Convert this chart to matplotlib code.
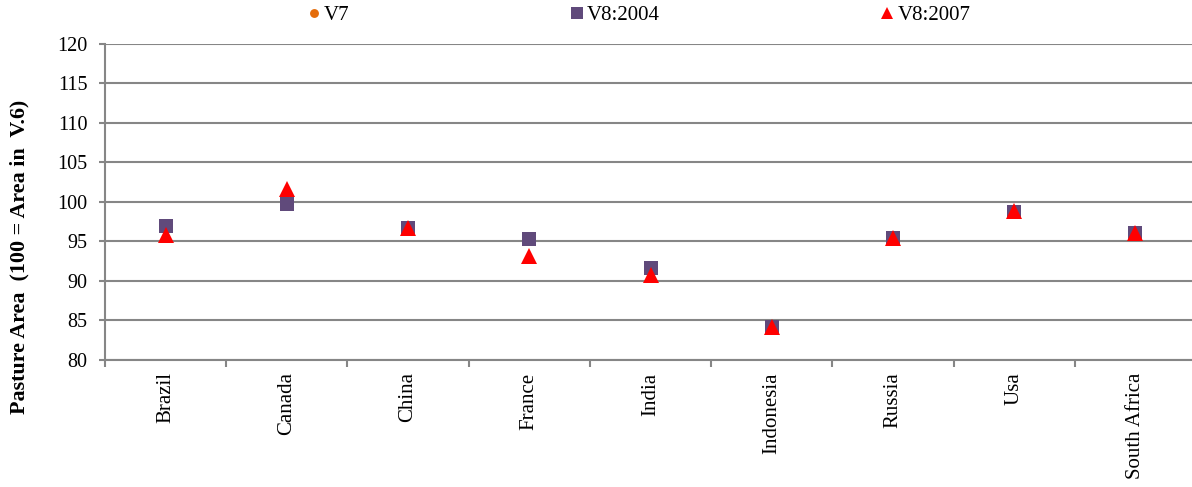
import numpy as np
import matplotlib.pyplot as plt

countries = ['Brazil', 'Canada', 'China', 'France', 'India',
             'Indonesia', 'Russia', 'Usa', 'South Africa']
v7 = [97.0, 99.8, 96.7, 95.3, 91.6, 84.2, 95.4, 98.7, 96.1]
v8_2004 = [97.0, 99.8, 96.7, 95.3, 91.6, 84.2, 95.4, 98.7, 96.1]
v8_2007 = [95.8, 101.6, 96.7, 93.2, 90.8, 84.2, 95.4, 98.9, 96.1]
yticks = [80, 85, 90, 95, 100, 105, 110, 115, 120]

plt.rcParams['font.family'] = ['Liberation Serif', 'DejaVu Serif']

fig = plt.figure(figsize=(11.92, 4.87), dpi=100)
ax = fig.add_axes([0.0881, 0.2608, 0.9153, 0.6489])

x = np.arange(len(countries))
gray = '#868686'

ax.plot(x, v7, linestyle='none', marker='o', markersize=8,
        color='#E46C0A', markeredgewidth=0, label='V7', zorder=3)
ax.plot(x, v8_2004, linestyle='none', marker='s', markersize=10,
        color='#604A7B', markeredgewidth=0, label='V8:2004', zorder=4)
ax.plot(x, v8_2007, linestyle='none', marker='^', markersize=11.5,
        color='#FF0000', markeredgewidth=0, label='V8:2007', zorder=5)

ax.set_xlim(-0.5, len(countries) - 0.5)
ax.set_ylim(80, 120)
ax.set_yticks(yticks)
ax.yaxis.grid(True, color=gray, linewidth=1.5)
ax.set_axisbelow(True)

ax.set_xticks(x)
ax.set_xticklabels(countries, rotation=90, va='top', ha='center')
ax.set_xticks(np.arange(-0.5, len(countries)), minor=True)
ax.tick_params(axis='x', which='major', length=0, pad=9, labelsize=15)
ax.tick_params(axis='x', which='minor', length=5, width=1.5, color=gray)
ax.tick_params(axis='y', length=4.5, width=1.5, color=gray, pad=8,
               labelsize=14.5)

for side in ['top', 'right']:
    ax.spines[side].set_visible(False)
for side in ['left', 'bottom']:
    ax.spines[side].set_color(gray)
    ax.spines[side].set_linewidth(1.5)

# label sits lower than the axes centre
ax.set_ylabel('Pasture Area  (100 = Area in  V.6)', fontsize=15.8,
              fontweight='bold')
ax.yaxis.set_label_coords(-0.069, 0.326)

fig.legend(loc='center', bbox_to_anchor=(0.536, 0.968), ncol=3,
           frameon=False, fontsize=15, columnspacing=10.6,
           handlelength=0.6, handletextpad=0.2, borderpad=0,
           markerscale=0.8)

fig.savefig('out.png', dpi=100)
